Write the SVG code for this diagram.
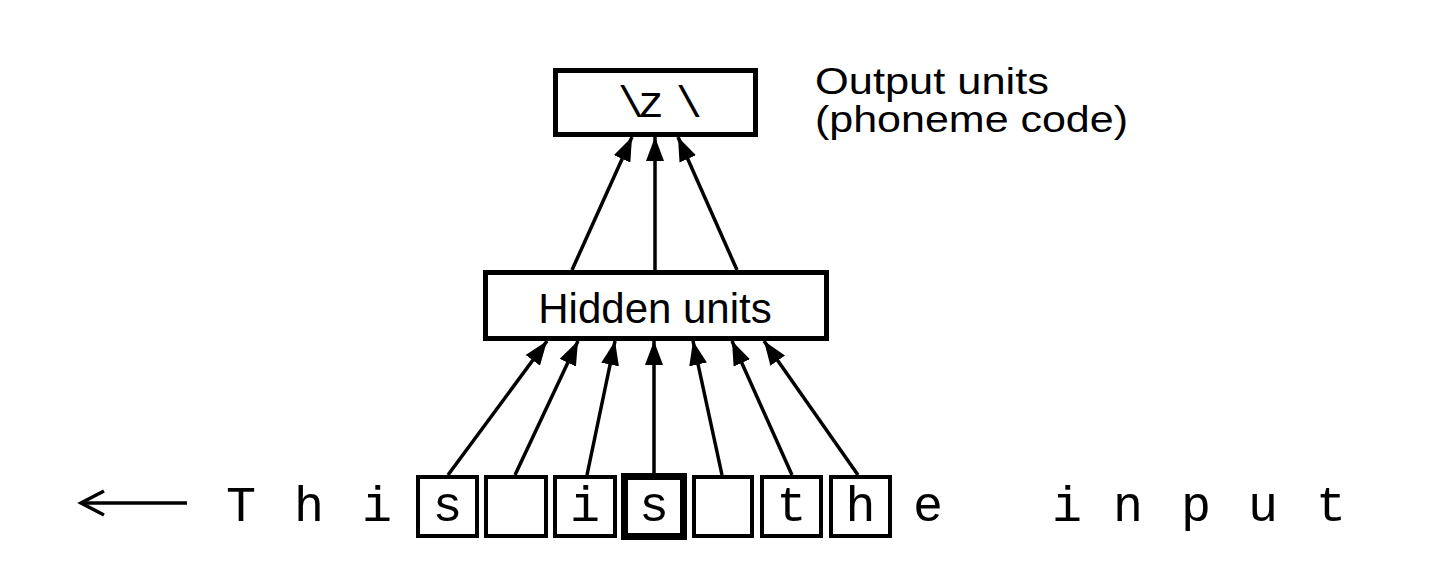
<svg xmlns="http://www.w3.org/2000/svg" width="1452" height="583" viewBox="0 0 1452 583">
<style>
.box{fill:#fff;stroke:#000;stroke-width:4}
.bold{fill:#fff;stroke:#000;stroke-width:7}
.ubox{fill:#fff;stroke:#000;stroke-width:5}
.mono{font-family:"Liberation Mono","Courier New",monospace;font-size:50px;fill:#000;text-anchor:middle}
.sans{font-family:"Liberation Sans",Arial,Helvetica,sans-serif;fill:#000}
.conn line{stroke:#000;stroke-width:3.5;marker-end:url(#ah)}
</style>
<defs>
<marker id="ah" markerUnits="userSpaceOnUse" markerWidth="25" markerHeight="18" refX="24" refY="9" orient="auto">
<path d="M0,0 L24,9 L0,18 Z" fill="#000"/>
</marker>
</defs>
<rect width="1452" height="583" fill="#fff"/>

<g id="output">
<rect class="ubox" x="555.5" y="70.5" width="200" height="64"/>
<text class="mono" style="font-size:44px" x="631 651 689" y="117">\z\</text>
</g>
<g id="output-label">
<text class="sans" font-size="36" x="815" y="94" textLength="234" lengthAdjust="spacingAndGlyphs">Output units</text>
<text class="sans" font-size="36" x="815" y="132" textLength="313" lengthAdjust="spacingAndGlyphs">(phoneme code)</text>
</g>

<g id="hidden">
<rect class="ubox" x="485.5" y="272.5" width="341" height="66"/>
<text class="sans" font-size="42" x="655" y="323" text-anchor="middle">Hidden units</text>
</g>

<g id="inputs">
<g id="in1"><rect class="box" x="418" y="477" width="59" height="59"/><text class="mono" x="447.5" y="521">s</text></g>
<g id="in2"><rect class="box" x="486" y="477" width="60" height="59"/></g>
<g id="in3"><rect class="box" x="555" y="477" width="60" height="59"/><text class="mono" x="585" y="521">i</text></g>
<g id="in4"><rect class="bold" x="624.5" y="476.5" width="59" height="60"/><text class="mono" x="654" y="521">s</text></g>
<g id="in5"><rect class="box" x="694" y="477" width="58" height="59"/></g>
<g id="in6"><rect class="box" x="762" y="477" width="59" height="59"/><text class="mono" x="791.5" y="521">t</text></g>
<g id="in7"><rect class="box" x="831" y="477" width="59" height="59"/><text class="mono" x="860.5" y="521">h</text></g>
</g>

<g id="stream">
<text class="mono" x="241" y="521">T</text>
<text class="mono" x="309" y="521">h</text>
<text class="mono" x="377" y="521">i</text>
<text class="mono" x="928" y="521">e</text>
<text class="mono" x="1067" y="521">i</text>
<text class="mono" x="1128" y="521">n</text>
<text class="mono" x="1196" y="521">p</text>
<text class="mono" x="1263" y="521">u</text>
<text class="mono" x="1331" y="521">t</text>
</g>

<g id="direction">
<line x1="187" y1="503" x2="81" y2="503" stroke="#000" stroke-width="3.5"/>
<polyline points="104,491 81,503 104,515" fill="none" stroke="#000" stroke-width="3.5"/>
</g>

<g id="connectors" class="conn">
<line x1="448" y1="475" x2="547" y2="341"/>
<line x1="515" y1="475" x2="578" y2="341"/>
<line x1="587" y1="475" x2="615" y2="341"/>
<line x1="654" y1="473" x2="654" y2="341"/>
<line x1="722" y1="475" x2="693" y2="341"/>
<line x1="792" y1="475" x2="732" y2="341"/>
<line x1="858" y1="475" x2="764" y2="341"/>
<line x1="572" y1="270" x2="632" y2="137"/>
<line x1="655" y1="270" x2="655" y2="137"/>
<line x1="737" y1="270" x2="678" y2="137"/>
</g>
</svg>
